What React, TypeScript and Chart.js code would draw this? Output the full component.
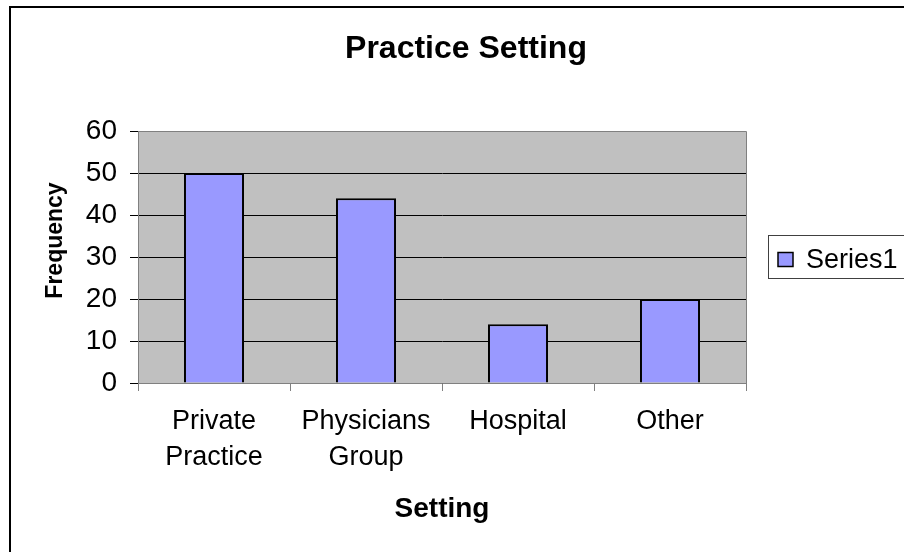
import React, { useEffect, useRef } from "react";
import { Chart, registerables } from "chart.js";

Chart.register(...registerables);

const chartTitle = "Practice Setting";
const xAxisTitle = "Setting";
const yAxisTitle = "Frequency";
const seriesName = "Series1";
const categories: (string | string[])[] = [["Private", "Practice"], ["Physicians", "Group"], "Hospital", "Other"];
const frequencies = [50, 44, 14, 20];
const yMin = 0;
const yMax = 60;
const yStep = 10;

const FONT = "'Liberation Sans', Arial, Helvetica, sans-serif";
const BAR_FILL = "#9999FF";
const PLOT_BG = "#C0C0C0";

const decorPlugin = {
  id: "decor",
  beforeDraw(chart: any) {
    const { ctx, chartArea } = chart;
    ctx.save();
    ctx.fillStyle = "#FFFFFF";
    ctx.fillRect(0, 0, chart.width, chart.height);
    ctx.fillStyle = PLOT_BG;
    ctx.fillRect(chartArea.left, chartArea.top, chartArea.right - chartArea.left, chartArea.bottom - chartArea.top);
    ctx.restore();
  },
  afterDraw(chart: any) {
    const { ctx, chartArea } = chart;
    ctx.save();
    // plot area border (top & right)
    ctx.strokeStyle = "#808080";
    ctx.lineWidth = 1;
    ctx.beginPath();
    ctx.moveTo(chartArea.left, chartArea.top + 0.5);
    ctx.lineTo(chartArea.right + 0.5, chartArea.top + 0.5);
    ctx.lineTo(chartArea.right + 0.5, chartArea.bottom);
    ctx.stroke();

    // outer frame (only top/left are visible)
    ctx.fillStyle = "#000";
    ctx.fillRect(9, 6, chart.width, 2);
    ctx.fillRect(9, 6, 2, chart.height);

    // chart title
    ctx.fillStyle = "#000";
    ctx.font = `bold 32px ${FONT}`;
    ctx.textAlign = "center";
    ctx.textBaseline = "alphabetic";
    ctx.fillText(chartTitle, 466, 58);

    // x axis title
    ctx.font = `bold 28px ${FONT}`;
    ctx.fillText(xAxisTitle, (chartArea.left + chartArea.right) / 2, 517);

    // y axis title
    ctx.save();
    ctx.translate(61.5, 240.5);
    ctx.rotate(-Math.PI / 2);
    ctx.font = `bold 23px ${FONT}`;
    ctx.textAlign = "center";
    ctx.fillText(yAxisTitle, 0, 0);
    ctx.restore();

    // legend
    const midY = (chartArea.top + chartArea.bottom) / 2;
    ctx.fillStyle = "#FFFFFF";
    ctx.fillRect(768, midY - 22, 150, 44);
    ctx.strokeStyle = "#404040";
    ctx.lineWidth = 1;
    ctx.strokeRect(768.5, midY - 21.5, 150, 43);
    ctx.fillStyle = BAR_FILL;
    ctx.fillRect(778, midY - 4.5, 15, 14);
    ctx.strokeStyle = "#000";
    ctx.lineWidth = 1.5;
    ctx.strokeRect(778, midY - 4.5, 15, 14);
    ctx.fillStyle = "#000";
    ctx.font = `27px ${FONT}`;
    ctx.textAlign = "left";
    ctx.fillText(seriesName, 806, midY + 10.5);
    ctx.restore();
  },
};

export default function App() {
  const canvasRef = useRef<HTMLCanvasElement | null>(null);

  useEffect(() => {
    const canvas = canvasRef.current;
    if (!canvas) return;
    const chart = new Chart(canvas, {
      type: "bar",
      data: {
        labels: categories,
        datasets: [
          {
            label: seriesName,
            data: frequencies,
            backgroundColor: BAR_FILL,
            borderColor: "#000000",
            borderWidth: 2,
            barPercentage: 0.395,
            categoryPercentage: 1,
          },
        ],
      },
      options: {
        responsive: false,
        animation: false,
        devicePixelRatio: 1,
        layout: { padding: { left: 0, right: 158, top: 131, bottom: 0 } },
        plugins: {
          legend: { display: false },
          title: { display: false },
          tooltip: { enabled: false },
        },
        scales: {
          x: {
            offset: true,
            grid: {
              display: true,
              offset: true,
              drawOnChartArea: false,
              drawTicks: true,
              tickLength: 8,
              color: "#808080",
            },
            border: { display: true, color: "#808080", width: 1 },
            ticks: {
              color: "#000",
              padding: 13,
              maxRotation: 0,
              autoSkip: false,
              font: { family: FONT, size: 27, lineHeight: 36 / 27 },
            },
            afterFit: (scale: any) => {
              scale.height = 169;
            },
          },
          y: {
            min: yMin,
            max: yMax,
            grid: {
              drawTicks: true,
              tickLength: 8,
              color: (ctx: any) => (ctx.tick && ctx.tick.value === yMax ? "#808080" : "#000000"),
              tickColor: "#000000",
            },
            border: { display: true, color: "#808080", width: 1 },
            ticks: {
              stepSize: yStep,
              color: "#000",
              padding: 13,
              font: { family: FONT, size: 28 },
            },
            afterFit: (scale: any) => {
              scale.width = 138;
            },
          },
        },
      },
      plugins: [decorPlugin],
    });
    return () => chart.destroy();
  }, []);

  return (
    <div style={{ position: "fixed", left: 0, top: 0, width: 904, height: 552, background: "#fff" }}>
      <canvas ref={canvasRef} width={904} height={552} style={{ width: 904, height: 552, display: "block" }} />
    </div>
  );
}
